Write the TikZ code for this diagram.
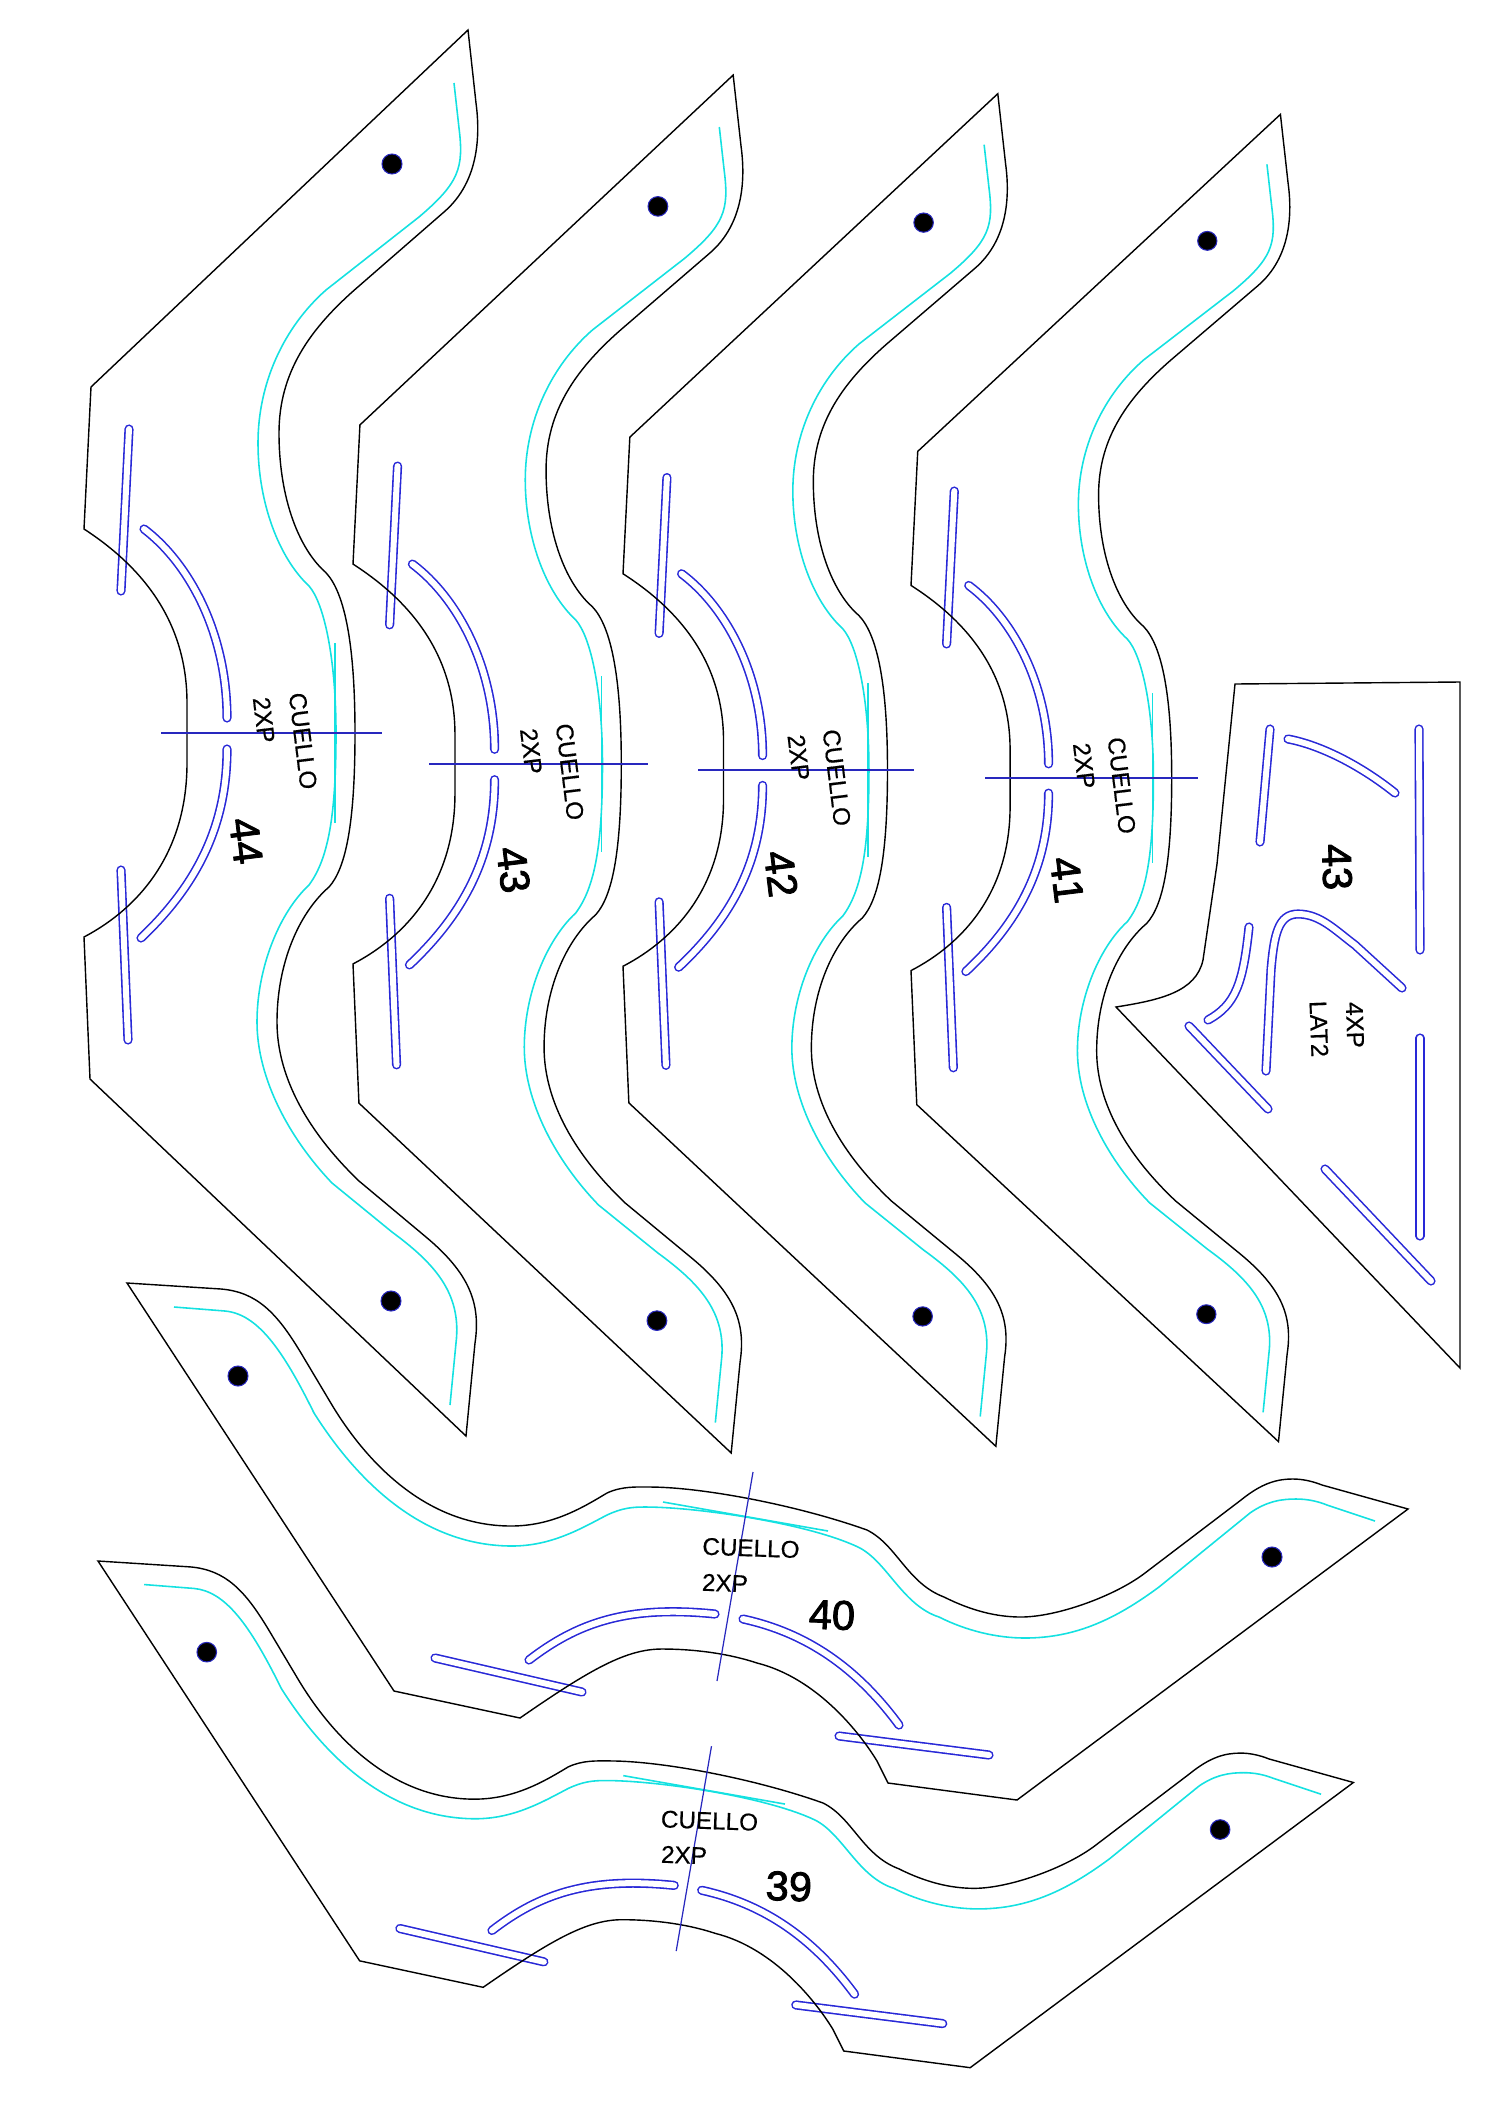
\documentclass[tikz,border=0pt]{standalone}
\usepackage{fontspec}
\setmainfont{Liberation Sans}
\newfontfamily\smallfont[FakeBold=0.5]{Liberation Sans}
\newfontfamily\bigfont[FakeBold=2]{Liberation Sans}
\definecolor{slotblue}{RGB}{40,40,215}
\definecolor{crossblue}{RGB}{40,40,190}
\definecolor{seamcyan}{RGB}{20,225,225}

\tikzset{
  outline/.style = {draw = black, line width = 0.4pt, line join = miter},
  seam/.style = {draw = seamcyan, line width = 0.45pt},
  slot/.style = {draw = slotblue, line width = 0.45pt, double = white,
    double distance = 0.06cm, line cap = round},
  crossline/.style = {draw = crossblue, line width = 0.35pt},
  hole/.style = {draw = crossblue, fill = black, line width = 0.3pt},
  small/.style = {inner sep = 0pt, font = \fontsize{6.9}{8}\smallfont},
  big/.style = {inner sep = 0pt, font = \fontsize{11.8}{13}\bigfont}
}

% upright collar: #1,#2 origin, #3,#4 scale, #5 size
\newcommand{\cuellovert}[5]{
  \begin{scope}[shift = {(#1, #2)}, xscale = #3, yscale = #4]
    \draw[slot] (45, -304) -- (37, -142);
    \draw[slot] (60, -204) .. controls (105, -170) and (143, -100) .. (143, -15);
    \draw[slot] (143, 16) .. controls (143, 90) and (115, 150) .. (57, 205);
    \draw[slot] (37, 137) -- (44, 307);
    \draw[seam] (370, -650) -- (375, -605) .. controls (380, -565) and (375, -550) .. (335, -516)
      -- (242, -443) .. controls (200, -406) and (174, -350) .. (174, -290)
      .. controls (174, -230) and (195, -175) .. (225, -147)
      .. controls (240, -130) and (252, -75) .. (252, 0)
      .. controls (252, 80) and (245, 125) .. (225, 152)
      .. controls (195, 180) and (173, 235) .. (173, 289)
      .. controls (173, 345) and (205, 405) .. (248, 450)
      -- (308, 499) .. controls (350, 530) and (378, 560) .. (372, 610) -- (366, 672);
    \draw[seam] (251, -90) -- (251, 90);
    \draw[outline] (384, -703) -- (392, -630) .. controls (396, -600) and (396, -552) .. (360, -521)
      -- (275, -447) .. controls (225, -404) and (195, -360) .. (195, -300)
      .. controls (195, -240) and (212, -190) .. (238, -164)
      .. controls (258, -148) and (271, -100) .. (271, 0)
      .. controls (271, 90) and (262, 135) .. (245, 154)
      .. controls (215, 180) and (193, 230) .. (193, 289)
      .. controls (193, 345) and (225, 400) .. (275, 448)
      -- (342, 504) .. controls (385, 540) and (397, 570) .. (391, 610)
      -- (382, 703) -- (6, 346) -- (0, 204)
      .. controls (55, 175) and (103, 120) .. (103, 30) -- (103, -30)
      .. controls (103, -110) and (60, -165) .. (0, -204) -- (7, -346) -- cycle;
    \draw[crossline] (77, 0) -- (298, 0);
    \draw[hole] (308, -569) circle [radius = 10];
    \draw[hole] (307, 568) circle [radius = 10];
    \node[small, rotate = -83] (cuello#5) at (219, 8) {CUELLO};
    \node[small, rotate = -83] (piezas#5) at (180, -13) {2XP};
    \node[big, rotate = -83] (talla#5) at (162, 108) {#5};
  \end{scope}
}

% lying collar: #1,#2 origin, #3 scale, #4 size
\newcommand{\cuellohoriz}[4]{
  \begin{scope}[shift = {(#1, #2)}, scale = #3]
    \draw[slot] (308, 375) -- (455, 409);
    \draw[slot] (402, 377) .. controls (450, 340) and (500, 322) .. (588, 331);
    \draw[slot] (616, 336) .. controls (680, 350) and (730, 385) .. (772, 442);
    \draw[slot] (712, 453) -- (862, 472);
    \draw[seam] (47, 24) -- (98, 28) .. controls (130, 31) and (155, 65) .. (187, 130)
      .. controls (225, 190) and (290, 263) .. (385, 263)
      .. controls (425, 263) and (455, 245) .. (480, 232)
      .. controls (495, 225) and (505, 224) .. (518, 224)
      .. controls (570, 224) and (680, 240) .. (731, 264)
      .. controls (760, 278) and (775, 322) .. (812, 334)
      .. controls (840, 348) and (870, 355) .. (898, 355)
      .. controls (950, 355) and (990, 335) .. (1032, 304)
      -- (1123, 230) .. controls (1140, 218) and (1155, 216) .. (1169, 216)
      .. controls (1180, 216) and (1190, 218) .. (1200, 222) -- (1248, 238);
    \draw[seam] (536, 219) -- (701, 248);
    \draw[outline] (0, 0) -- (94, 6) .. controls (130, 9) and (150, 30) .. (174, 70)
      -- (205, 122) .. controls (240, 180) and (300, 243) .. (384, 243)
      .. controls (425, 243) and (455, 225) .. (480, 210)
      .. controls (495, 203) and (510, 204) .. (522, 204)
      .. controls (575, 204) and (670, 222) .. (740, 247)
      .. controls (770, 262) and (780, 300) .. (817, 314)
      .. controls (845, 328) and (870, 334) .. (894, 334)
      .. controls (930, 334) and (988, 313) .. (1018, 290)
      -- (1114, 217) .. controls (1135, 200) and (1150, 196) .. (1166, 196)
      .. controls (1175, 196) and (1185, 198) .. (1195, 202)
      -- (1281, 226) -- (890, 517) -- (761, 500) -- (750, 478)
      .. controls (733, 450) and (690, 395) .. (630, 380)
      .. controls (600, 370) and (565, 366) .. (535, 366)
      .. controls (500, 366) and (465, 385) .. (393, 435)
      -- (267, 408) -- cycle;
    \draw[crossline] (626, 189) -- (590, 398);
    \draw[hole] (111, 93) circle [radius = 10];
    \draw[hole] (1145, 274) circle [radius = 10];
    \node[small, rotate = -2] (cuello#4) at (624, 265) {CUELLO};
    \node[small, rotate = -2] (piezas#4) at (598, 300) {2XP};
    \node[big, rotate = -2] (talla#4) at (705, 332) {#4};
  \end{scope}
}

\begin{document}
\begin{tikzpicture}[x = 0.01cm, y = -0.01cm]
  \useasboundingbox (0, 0) rectangle (1500, 2121);

  \cuellovert{84}{733}{1}{1}{44}
  \cuellovert{353}{764}{0.99}{0.98}{43}
  \cuellovert{623}{770}{0.976}{0.962}{42}
  \cuellovert{911}{778}{0.962}{0.944}{41}

  \cuellohoriz{127}{1283}{1}{40}
  \cuellohoriz{98}{1561}{0.98}{39}

  % lat2 piece
  \draw[slot] (1270, 729) -- (1260, 842);
  \draw[slot] (1288, 739) .. controls (1320, 745) and (1360, 765) .. (1395, 793);
  \draw[slot] (1419, 729) -- (1420, 950);
  \draw[slot] (1249, 927) .. controls (1243, 985) and (1235, 1005) .. (1208, 1020);
  \draw[slot] (1266, 1071) -- (1271, 970) .. controls (1274, 935) and (1278, 914) .. (1298, 914)
    .. controls (1320, 914) and (1335, 930) .. (1355, 945) -- (1402, 988);
  \draw[slot] (1189, 1026) -- (1268, 1109);
  \draw[slot] (1420, 1038) -- (1420, 1236);
  \draw[slot] (1325, 1169) -- (1431, 1281);
  \draw[outline] (1235, 684) -- (1460, 682) -- (1460, 1368) -- (1116, 1007)
    .. controls (1160, 1000) and (1196, 992) .. (1203, 960) -- (1217, 864) -- cycle;
  \node[big, rotate = -88] (talla43b) at (1337, 867) {43};
  \node[small, rotate = -88] (lat2) at (1319, 1029) {LAT2};
  \node[small, rotate = -88] (piezas4) at (1355, 1025) {4XP};
\end{tikzpicture}
\end{document}
